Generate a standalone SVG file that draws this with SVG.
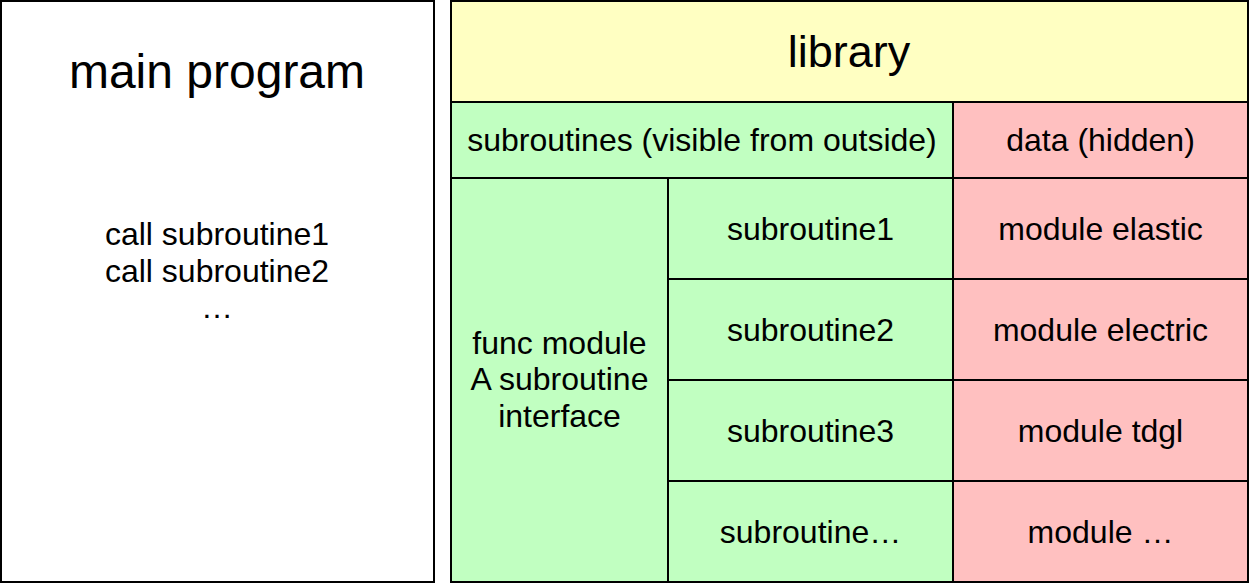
<svg xmlns="http://www.w3.org/2000/svg" width="1250" height="584" viewBox="0 0 1250 584">
<style>
rect{stroke:#000;stroke-width:2}
.w{fill:#fff}.y{fill:#ffffc2}.g{fill:#c1ffc1}.r{fill:#ffc0c0}
text{font-family:"Liberation Sans",Arial,Helvetica,sans-serif;fill:#000;text-anchor:middle;font-size:32px}
.big{font-size:48px}.lib{font-size:45px}
</style>
<rect width="1250" height="584" fill="#fff" style="stroke:none"/>
<g id="main-program">
<rect class="w" x="1" y="1" width="433" height="581"/>
<text class="big" x="217" y="88">main program</text>
<text x="217" y="245">call subroutine1</text>
<text x="217" y="281.5">call subroutine2</text>
<text x="217" y="318">…</text>
</g>
<g id="library">
<rect class="y" x="451" y="1" width="797" height="101"/>
<text class="lib" x="849" y="67">library</text>
</g>
<g id="subroutines-header">
<rect class="g" x="451" y="102" width="502" height="76"/>
<text x="702" y="151">subroutines (visible from outside)</text>
</g>
<g id="data-header">
<rect class="r" x="953" y="102" width="295" height="76"/>
<text x="1100.5" y="151">data (hidden)</text>
</g>
<g id="func-module">
<rect class="g" x="451" y="178" width="217" height="404"/>
<text x="559.5" y="353.5">func module</text>
<text x="559.5" y="390">A subroutine</text>
<text x="559.5" y="426.5">interface</text>
</g>
<g id="subroutine1">
<rect class="g" x="668" y="178" width="285" height="101"/>
<text x="810.5" y="239.5">subroutine1</text>
</g>
<g id="subroutine2">
<rect class="g" x="668" y="279" width="285" height="101"/>
<text x="810.5" y="340.5">subroutine2</text>
</g>
<g id="subroutine3">
<rect class="g" x="668" y="380" width="285" height="101"/>
<text x="810.5" y="441.5">subroutine3</text>
</g>
<g id="subroutine-more">
<rect class="g" x="668" y="481" width="285" height="101"/>
<text x="810.5" y="542.5">subroutine…</text>
</g>
<g id="module-elastic">
<rect class="r" x="953" y="178" width="295" height="101"/>
<text x="1100.5" y="239.5">module elastic</text>
</g>
<g id="module-electric">
<rect class="r" x="953" y="279" width="295" height="101"/>
<text x="1100.5" y="340.5">module electric</text>
</g>
<g id="module-tdgl">
<rect class="r" x="953" y="380" width="295" height="101"/>
<text x="1100.5" y="441.5">module tdgl</text>
</g>
<g id="module-more">
<rect class="r" x="953" y="481" width="295" height="101"/>
<text x="1100.5" y="542.5">module …</text>
</g>
</svg>
